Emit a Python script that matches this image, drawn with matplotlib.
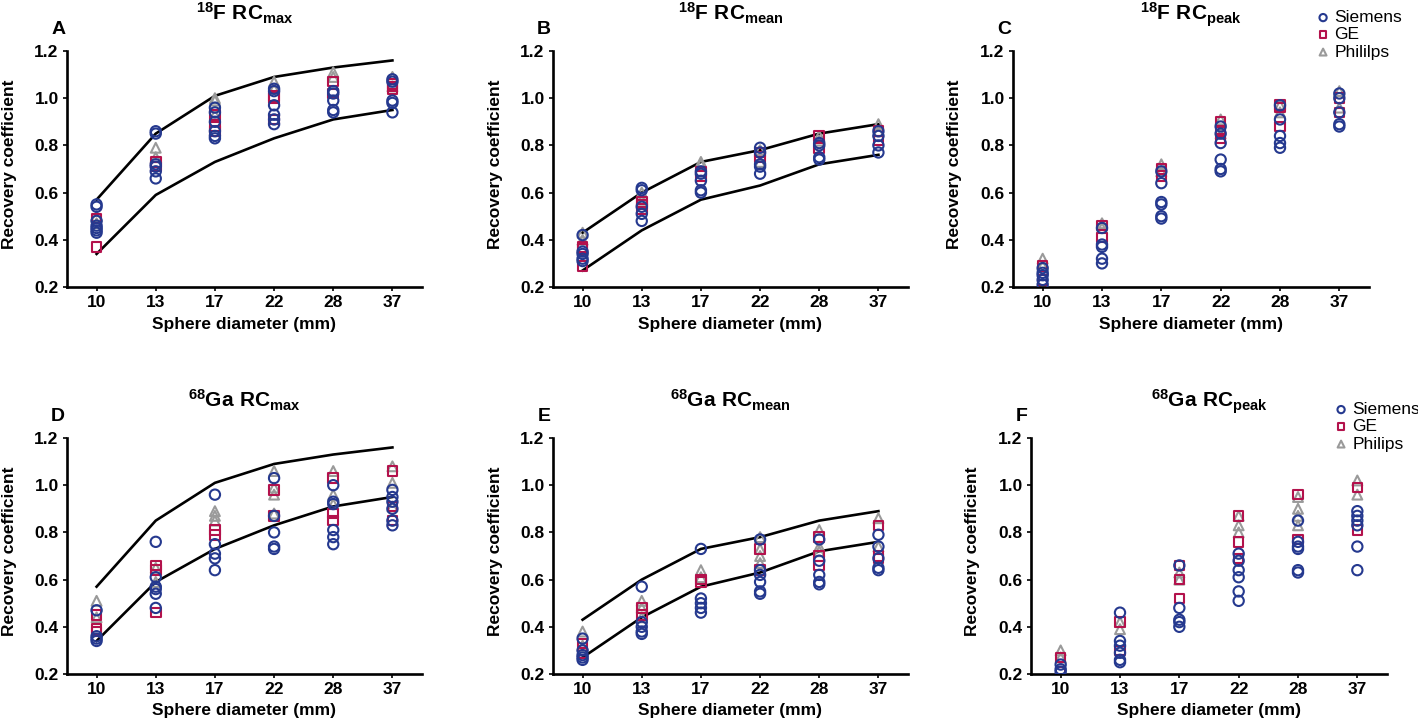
import matplotlib
matplotlib.use("Agg")
import matplotlib.pyplot as plt
import numpy as np

plt.rcParams['font.family'] = ['Liberation Sans', 'DejaVu Sans']
plt.rcParams['mathtext.fontset'] = 'custom'
plt.rcParams['mathtext.rm'] = 'Liberation Sans:bold'
plt.rcParams['mathtext.it'] = 'Liberation Sans:bold'
plt.rcParams['mathtext.bf'] = 'Liberation Sans:bold'

diameters = ["10", "13", "17", "22", "28", "37"]

# EARL limits
rcmax_upper = [0.57, 0.85, 1.01, 1.09, 1.13, 1.16]
rcmax_lower = [0.34, 0.59, 0.73, 0.83, 0.91, 0.95]
rcmean_upper = [0.43, 0.60, 0.73, 0.78, 0.85, 0.89]
rcmean_lower = [0.27, 0.44, 0.57, 0.63, 0.72, 0.76]

# values per sphere (lists per diameter)
A_siemens = [[0.55, 0.54, 0.48, 0.46, 0.45, 0.44, 0.43], [0.86, 0.85, 0.72, 0.71, 0.69, 0.66],
             [0.96, 0.94, 0.90, 0.86, 0.84, 0.83], [1.04, 1.03, 0.97, 0.93, 0.91, 0.89],
             [1.03, 1.02, 0.99, 0.95, 0.94], [1.08, 1.07, 0.99, 0.98, 0.94]]
A_ge = [[0.49, 0.37], [0.73, 0.71], [0.93, 0.88, 0.86], [1.01, 1.00, 0.91], [1.07, 1.02], [1.06, 1.05, 1.04]]
A_philips = [[0.50, 0.47], [0.79, 0.75], [1.00, 0.99, 0.93], [1.07, 1.04], [1.11, 1.09], [1.09, 1.05]]

B_siemens = [[0.42, 0.35, 0.34, 0.32, 0.31], [0.62, 0.61, 0.54, 0.51, 0.48], [0.69, 0.68, 0.65, 0.61, 0.60],
             [0.79, 0.77, 0.72, 0.71, 0.68], [0.81, 0.80, 0.75, 0.74], [0.86, 0.84, 0.80, 0.77]]
B_ge = [[0.37, 0.36, 0.29], [0.56, 0.55, 0.53], [0.69, 0.67], [0.77, 0.75], [0.84, 0.79], [0.86, 0.82]]
B_philips = [[0.43, 0.40], [0.60, 0.57], [0.73, 0.72], [0.78, 0.73], [0.84, 0.82], [0.89, 0.86]]

C_siemens = [[0.28, 0.26, 0.25, 0.23, 0.21], [0.45, 0.38, 0.37, 0.32, 0.30], [0.69, 0.64, 0.56, 0.55, 0.50, 0.49],
             [0.88, 0.85, 0.81, 0.74, 0.70, 0.69], [0.97, 0.91, 0.84, 0.81, 0.79], [1.02, 1.00, 0.94, 0.89, 0.88]]
C_ge = [[0.29, 0.23], [0.46, 0.41], [0.70, 0.67], [0.90, 0.86, 0.83], [0.97, 0.96, 0.88], [1.00, 0.94]]
C_philips = [[0.32, 0.29], [0.47, 0.45], [0.72, 0.69], [0.91, 0.85], [0.97, 0.94], [1.03, 0.96]]

D_siemens = [[0.47, 0.36, 0.35, 0.34], [0.76, 0.61, 0.57, 0.56, 0.54, 0.48], [0.96, 0.75, 0.71, 0.69, 0.64],
             [1.03, 0.87, 0.80, 0.74, 0.73], [1.00, 0.93, 0.92, 0.81, 0.78, 0.75],
             [0.98, 0.95, 0.93, 0.90, 0.85, 0.83]]
D_ge = [[0.45, 0.39, 0.38], [0.66, 0.64, 0.46], [0.81, 0.79], [0.98, 0.87], [1.03, 0.88, 0.85], [1.06, 0.91, 0.85]]
D_philips = [[0.51, 0.44], [0.65, 0.59], [0.89, 0.87, 0.85], [1.06, 0.99, 0.96, 0.88], [1.06, 0.96, 0.92],
             [1.08, 1.01, 0.91]]

E_siemens = [[0.35, 0.30, 0.28, 0.27, 0.26], [0.57, 0.42, 0.40, 0.38, 0.37], [0.73, 0.52, 0.50, 0.48, 0.46],
             [0.77, 0.64, 0.62, 0.59, 0.55, 0.54], [0.77, 0.68, 0.62, 0.59, 0.58], [0.79, 0.74, 0.69, 0.65, 0.64]]
E_ge = [[0.33, 0.29], [0.48, 0.45], [0.60, 0.59], [0.73, 0.64], [0.78, 0.70, 0.66], [0.83, 0.70, 0.69]]
E_philips = [[0.38, 0.32], [0.51, 0.48, 0.44], [0.64, 0.61], [0.78, 0.73, 0.70, 0.67], [0.81, 0.74, 0.72],
             [0.86, 0.74]]

F_siemens = [[0.24, 0.22, 0.21], [0.46, 0.34, 0.32, 0.29, 0.26, 0.25], [0.66, 0.48, 0.43, 0.42, 0.40],
             [0.71, 0.68, 0.64, 0.61, 0.55, 0.51], [0.85, 0.76, 0.74, 0.73, 0.64, 0.63],
             [0.89, 0.87, 0.85, 0.83, 0.74, 0.64]]
F_ge = [[0.27, 0.21], [0.42, 0.30], [0.66, 0.60, 0.52], [0.87, 0.76, 0.69], [0.96, 0.77], [0.99, 0.81]]
F_philips = [[0.30, 0.27], [0.42, 0.39], [0.63, 0.60], [0.87, 0.83, 0.80], [0.95, 0.90, 0.87, 0.83],
             [1.02, 0.96]]

titles = [r"$\mathbf{^{18}F\ RC_{max}}$", r"$\mathbf{^{18}F\ RC_{mean}}$", r"$\mathbf{^{18}F\ RC_{peak}}$",
          r"$\mathbf{^{68}Ga\ RC_{max}}$", r"$\mathbf{^{68}Ga\ RC_{mean}}$", r"$\mathbf{^{68}Ga\ RC_{peak}}$"]
letters = ["A", "B", "C", "D", "E", "F"]
legend_names_top = ["Siemens", "GE", "Phililps"]
legend_names_bottom = ["Siemens", "GE", "Philips"]

panels = [
    (A_siemens, A_ge, A_philips, (rcmax_upper, rcmax_lower)),
    (B_siemens, B_ge, B_philips, (rcmean_upper, rcmean_lower)),
    (C_siemens, C_ge, C_philips, None),
    (D_siemens, D_ge, D_philips, (rcmax_upper, rcmax_lower)),
    (E_siemens, E_ge, E_philips, (rcmean_upper, rcmean_lower)),
    (F_siemens, F_ge, F_philips, None),
]

BLUE = "#25398f"
RED = "#b3124c"
GRAY = "#9a9a9a"

W, H = 1418, 721
fig = plt.figure(figsize=(W / 100, H / 100), dpi=100)

# axes boxes in pixels: left, top, right, bottom
boxes = [(67, 51, 422, 287), (553, 51, 908, 287), (1013, 51, 1369, 287),
         (67, 438, 422, 674), (553, 438, 908, 674), (1031, 438, 1387, 674)]

def flat(groups):
    xs, ys = [], []
    for i, g in enumerate(groups):
        for v in g:
            xs.append(i)
            ys.append(v)
    return xs, ys

for k, (box, (sie, ge, phi, lims)) in enumerate(zip(boxes, panels)):
    l, t, r, b = box
    ax = fig.add_axes([l / W, 1 - b / H, (r - l) / W, (b - t) / H])
    xp = np.arange(len(diameters))
    if lims is not None:
        ax.plot(xp, lims[0], color="black", lw=1.9, zorder=2)
        ax.plot(xp, lims[1], color="black", lw=1.9, zorder=2)
    xs, ys = flat(phi)
    h3 = ax.scatter(xs, ys, marker="^", s=50, facecolors="none", edgecolors=GRAY, linewidths=1.5, zorder=3)
    xs, ys = flat(ge)
    h2 = ax.scatter(xs, ys, marker="s", s=48, facecolors="none", edgecolors=RED, linewidths=1.5, zorder=4)
    xs, ys = flat(sie)
    h1 = ax.scatter(xs, ys, marker="o", s=55, facecolors="none", edgecolors=BLUE, linewidths=1.5, zorder=5)

    ax.set_xlim(-0.5, 5.5)
    ax.set_ylim(0.2, 1.2)
    ax.set_xticks(xp)
    ax.set_xticklabels(diameters)
    ax.set_yticks([0.2, 0.4, 0.6, 0.8, 1.0, 1.2])
    ax.set_yticklabels(["0.2", "0.4", "0.6", "0.8", "1.0", "1.2"])
    for sp in ["top", "right"]:
        ax.spines[sp].set_visible(False)
    for sp in ["left", "bottom"]:
        ax.spines[sp].set_linewidth(1.9)
    ax.tick_params(axis="both", which="major", length=3, width=1.2, labelsize=12.5, pad=3)
    for lab in ax.get_xticklabels() + ax.get_yticklabels():
        lab.set_fontweight("bold")
    ax.set_ylabel("Recovery coefficient", fontsize=12.5, fontweight="bold")
    ax.set_xlabel("Sphere diameter (mm)", fontsize=12.5, fontweight="bold")
    ax.yaxis.set_label_coords(-0.142, 0.52)
    ax.xaxis.set_label_coords(0.5, -0.125)
    ax.text(0.5, 1.13, titles[k], transform=ax.transAxes, ha="center", va="baseline",
            fontsize=15)
    ax.text(-0.025, 1.089, letters[k], transform=ax.transAxes, ha="center", va="center",
            fontsize=14, fontweight="bold")

    if k == 2:
        fig.legend([h1, h2, h3], legend_names_top, loc="upper left",
                   bbox_to_anchor=(1317 / W, 1 - 10 / H), frameon=False, fontsize=12.5,
                   borderpad=0, borderaxespad=0, handlelength=0.7, handletextpad=0.3,
                   labelspacing=0.12, markerscale=0.7)
    if k == 5:
        fig.legend([h1, h2, h3], legend_names_bottom, loc="upper left",
                   bbox_to_anchor=(1335 / W, 1 - 402 / H), frameon=False, fontsize=12.5,
                   borderpad=0, borderaxespad=0, handlelength=0.7, handletextpad=0.3,
                   labelspacing=0.12, markerscale=0.7)

fig.savefig("out.png", dpi=100)
